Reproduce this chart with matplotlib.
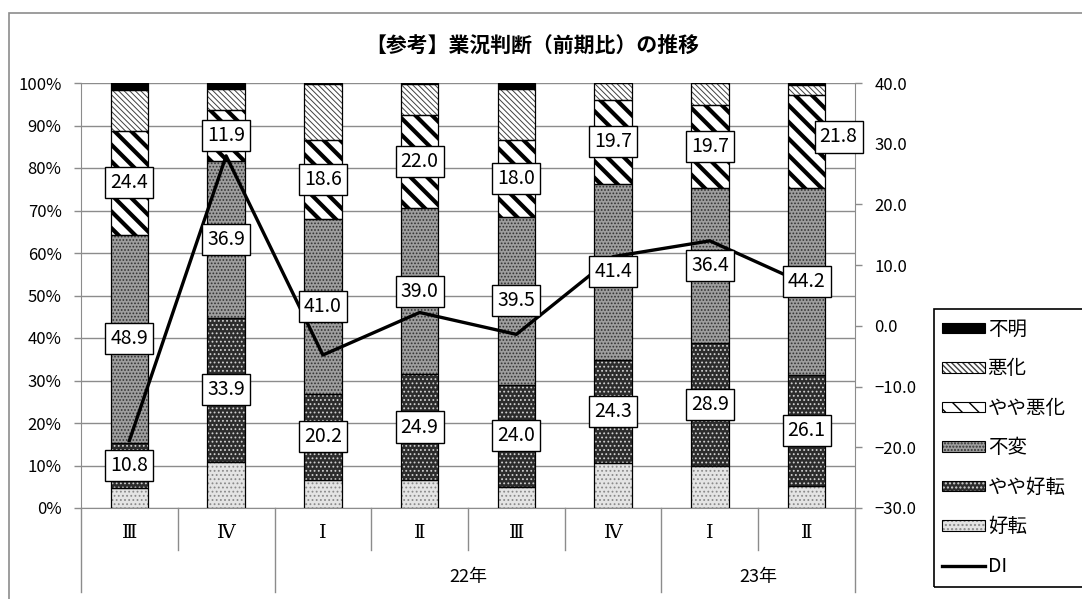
import matplotlib

matplotlib.use("Agg")
import matplotlib.pyplot as plt
import numpy as np
from matplotlib.lines import Line2D
from matplotlib.patches import Patch, Rectangle
from matplotlib.ticker import FuncFormatter, MultipleLocator

plt.rcParams["font.family"] = ["Noto Sans CJK JP", "DejaVu Sans"]

# --- data (percent shares, bottom to top) ---
quarters = ["Ⅲ", "Ⅳ", "Ⅰ", "Ⅱ", "Ⅲ", "Ⅳ", "Ⅰ", "Ⅱ"]
year_labels = ["", "22年", "23年"]
year_spans = [2, 4, 2]

kouten = [4.6, 10.9, 6.7, 6.6, 5.0, 10.6, 9.9, 5.1]          # 好転
yaya_kouten = [10.8, 33.9, 20.2, 24.9, 24.0, 24.3, 28.9, 26.1]  # やや好転
fuhen = [48.9, 36.9, 41.0, 39.0, 39.5, 41.4, 36.4, 44.2]        # 不変
yaya_akka = [24.4, 11.9, 18.6, 22.0, 18.0, 19.7, 19.7, 21.8]    # やや悪化
akka = [9.7, 4.9, 13.2, 7.3, 12.2, 4.0, 5.1, 2.4]               # 悪化
fumei = [1.6, 1.5, 0.3, 0.2, 1.3, 0.0, 0.0, 0.4]                # 不明
di = [-18.9, 28.0, -4.8, 2.2, -1.4, 11.4, 14.0, 6.8]

series_names = ["好転", "やや好転", "不変", "やや悪化", "悪化", "不明"]
series_vals = [kouten, yaya_kouten, fuhen, yaya_akka, akka, fumei]
labelled = {"やや好転", "不変", "やや悪化"}

# face, hatch, hatch colour, hatch linewidth
styles = {
    "好転": ("#e4e4e4", "....", "#8a8a8a", 0.8),
    "やや好転": ("#2c2c2c", "....", "#d0d0d0", 0.8),
    "不変": ("#9e9e9e", ".....", "#333333", 0.8),
    "やや悪化": ("white", "\\\\", "black", 3.0),
    "悪化": ("white", "\\\\\\\\\\\\", "#404040", 0.7),
    "不明": ("black", None, "black", 0.8),
}
# manual nudge of one data label (in category / percent units)
label_nudge = {(7, "やや悪化"): (0.33, 1.0)}

W, H = 1082, 599
fig = plt.figure(figsize=(W / 100, H / 100), dpi=100)
ax = fig.add_axes([81 / W, 1 - 508 / H, (855 - 81) / W, (508 - 83) / H])
ax2 = ax.twinx()

GRAY = "#8c8c8c"
x = np.arange(len(quarters))
bar_w = 0.39


def set_hlw(p, lw):
    if hasattr(p, "set_hatch_linewidth"):
        p.set_hatch_linewidth(lw)


bottom = np.zeros(len(quarters))
label_pos = []
for name, vals in zip(series_names, series_vals):
    vals = np.asarray(vals)
    face, hatch, hcol, hlw = styles[name]
    fill = ax.bar(x, vals, bar_w, bottom=bottom, color=face, edgecolor=hcol,
                  linewidth=0, hatch=hatch, zorder=2)
    for p in fill:
        set_hlw(p, hlw)
    ax.bar(x, vals, bar_w, bottom=bottom, fill=False, edgecolor="black",
           linewidth=0.9, zorder=3)
    if name in labelled:
        for i, v in enumerate(vals):
            dx, dy = label_nudge.get((i, name), (0, 0))
            label_pos.append((x[i] + dx, bottom[i] + v / 2 + dy, v))
    bottom = bottom + vals

ax.set_xlim(-0.5, len(quarters) - 0.5)
ax.set_ylim(0, 100)
ax.yaxis.set_major_locator(MultipleLocator(10))
ax.yaxis.set_major_formatter(FuncFormatter(lambda v, p: f"{v:.0f}%"))
ax.grid(axis="y", color=GRAY, linewidth=1.0)
ax.set_axisbelow(True)
ax.set_xticks([])
ax.tick_params(axis="y", direction="out", length=5, width=1, color=GRAY,
               labelsize=12, pad=9)
for s in ["top", "right"]:
    ax.spines[s].set_visible(False)
ax.spines["left"].set_color(GRAY)
ax.spines["bottom"].set_color(GRAY)

ax2.plot(x, di, color="black", linewidth=2.4, zorder=4)
ax2.set_ylim(-30, 40)
ax2.yaxis.set_major_locator(MultipleLocator(10))
ax2.yaxis.set_major_formatter(FuncFormatter(lambda v, p: f"{v:.1f}".replace("-", "−")))
ax2.tick_params(axis="y", direction="out", length=5, width=1, color=GRAY,
                labelsize=12, pad=9)
for s in ["top", "left", "bottom"]:
    ax2.spines[s].set_visible(False)
ax2.spines["right"].set_color(GRAY)

for lx, ly, v in label_pos:
    ax2.text(lx, ly, f"{v:.1f}", transform=ax.transData, ha="center", va="center",
             fontsize=14, zorder=6,
             bbox=dict(boxstyle="square,pad=0.26", fc="white", ec="black", lw=1.0))

# multi-level category axis
trans = ax.get_xaxis_transform()
row1 = -(550 - 508) / (508 - 83)
row2 = -(592 - 508) / (508 - 83)
group_edges = np.cumsum([0] + year_spans) - 0.5
for k in range(len(quarters) + 1):
    edge = k - 0.5
    depth = row2 if np.any(np.isclose(group_edges, edge)) else row1
    ax.plot([edge, edge], [0, depth], transform=trans, color=GRAY, lw=1, clip_on=False)
for i, q in enumerate(quarters):
    ax.text(x[i], -(533 - 508) / (508 - 83), q, transform=trans, ha="center", va="center",
            fontsize=14, family=["DejaVu Serif", "Noto Sans CJK JP"])
start = 0
for lab, span in zip(year_labels, year_spans):
    ax.text(start + (span - 1) / 2, -(577 - 508) / (508 - 83), lab, transform=trans,
            ha="center", va="center", fontsize=13)
    start += span

fig.text(365 / W, 1 - 45 / H, "【参考】業況判断（前期比）の推移",
         ha="left", va="center", fontsize=15, fontweight="bold")

# outer chart frame and legend frame (both run past the image edge)
fig.patches.append(Rectangle((9 / W, -0.1), 2, 1.1 - 13 / H, transform=fig.transFigure,
                             fill=False, ec=GRAY, lw=1.2))
fig.patches.append(Rectangle((934 / W, 1 - 587 / H), 1, (587 - 309) / H,
                             transform=fig.transFigure, fill=False, ec="black", lw=1.2))

handles = []
for name in ["不明", "悪化", "やや悪化", "不変", "やや好転", "好転"]:
    face, hatch, hcol, hlw = styles[name]
    pf = Patch(facecolor=face, edgecolor=hcol, linewidth=0, hatch=hatch)
    set_hlw(pf, hlw)
    pb = Patch(fill=False, edgecolor="black", linewidth=0.8)
    handles.append((pf, pb))
handles.append(Line2D([], [], color="black", linewidth=2.4))
fig.legend(handles, ["不明", "悪化", "やや悪化", "不変", "やや好転", "好転", "DI"],
           loc="upper left", bbox_to_anchor=(942 / W, 1 - 319 / H), frameon=False,
           fontsize=14, handlelength=2.2, handleheight=0.45, handletextpad=0.15,
           labelspacing=0.95, borderpad=0, borderaxespad=0)

fig.savefig("out.png", dpi=100)
